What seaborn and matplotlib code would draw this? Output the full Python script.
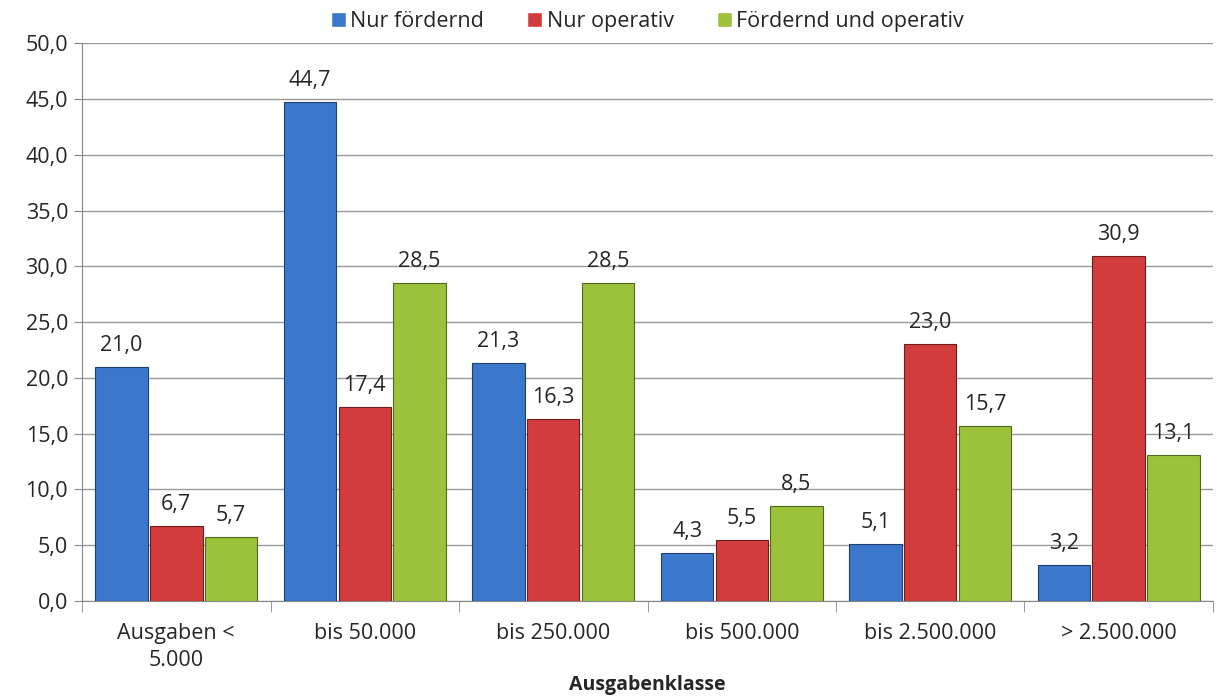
import pandas as pd
import numpy as np
import matplotlib.pyplot as plt
import seaborn as sns

categories = ["Ausgaben <\n5.000", "bis 50.000", "bis 250.000", "bis 500.000", "bis 2.500.000", "> 2.500.000"]
series = ["Nur fördernd", "Nur operativ", "Fördernd und operativ"]
nur_foerdernd = [21.0, 44.7, 21.3, 4.3, 5.1, 3.2]
nur_operativ = [6.7, 17.4, 16.3, 5.5, 23.0, 30.9]
beides = [5.7, 28.5, 28.5, 8.5, 15.7, 13.1]
yticks = np.arange(0, 50.1, 5)

df = pd.DataFrame({
    "Ausgabenklasse": categories * 3,
    "Typ": [s for s in series for _ in categories],
    "Wert": nur_foerdernd + nur_operativ + beides,
})

sns.set_style("white")
plt.rcParams["font.family"] = ["Open Sans", "DejaVu Sans"]

colors = ["#3B78CC", "#D23C3C", "#9CC23C"]
edges = ["#1F3F6E", "#6E1C1C", "#4F6A1A"]
fs = 15.5

fig = plt.figure(figsize=(12.17, 6.96), dpi=100)
ax = fig.add_axes([0.0674, 0.1365, 0.9293, 0.8015])

sns.barplot(data=df, x="Ausgabenklasse", y="Wert", hue="Typ", palette=colors,
            saturation=1, width=0.87, gap=0.04, ax=ax, legend=True, errorbar=None)

for i, cont in enumerate(ax.containers):
    for bar in cont:
        bar.set_edgecolor(edges[i])
        bar.set_linewidth(0.8)
        bar.set_zorder(3)
    ax.bar_label(cont, labels=[f"{v:.1f}".replace(".", ",") for v in cont.datavalues],
                 padding=8, fontsize=fs)

ax.set_ylim(0, 50)
ax.set_xlim(-0.5, len(categories) - 0.5)
ax.set_yticks(yticks)
ax.set_yticklabels([f"{v:.1f}".replace(".", ",") for v in yticks], fontsize=fs)
ax.yaxis.grid(True, color="#9a9a9a", linewidth=1, zorder=0)
ax.set_axisbelow(True)
ax.tick_params(axis="x", length=0, labelsize=fs, pad=16)
for lbl in ax.get_xticklabels():
    lbl.set_linespacing(1.35)
ax.tick_params(axis="y", length=6, color="#888888", direction="out", left=True, pad=4)
ax.set_xticks(np.arange(-0.5, len(categories)), minor=True)
ax.tick_params(axis="x", which="minor", length=8, color="#888888", bottom=True)
for s in ["top", "right"]:
    ax.spines[s].set_visible(False)
for s in ["left", "bottom"]:
    ax.spines[s].set_color("#888888")
ax.set_ylabel("")
ax.set_xlabel("")
fig.text(0.532, 0.016, "Ausgabenklasse", fontsize=14, fontweight="bold",
         ha="center", va="center")

ax.legend(loc="lower center", bbox_to_anchor=(0.5, 1.005), ncol=3, frameon=False,
          fontsize=fs, handlelength=0.7, handleheight=0.7, handletextpad=0.2,
          columnspacing=2.0, borderaxespad=0)

fig.savefig("out.png", dpi=100)
